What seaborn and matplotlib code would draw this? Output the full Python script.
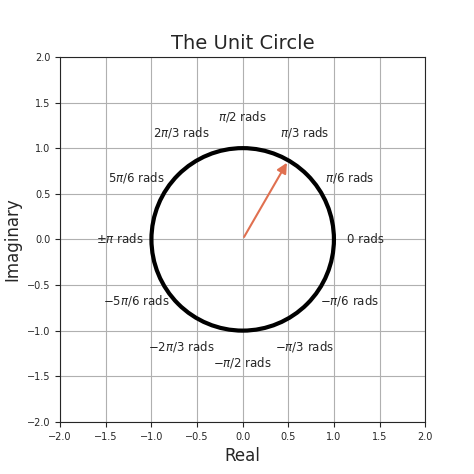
import numpy as np
import seaborn as sns
import matplotlib.pyplot as plt
from matplotlib.patches import Circle

# angle labels placed around the circle
angles = [0, np.pi/6, np.pi/3, np.pi/2, 2*np.pi/3, 5*np.pi/6, np.pi,
          -5*np.pi/6, -2*np.pi/3, -np.pi/2, -np.pi/3, -np.pi/6]
labels = ['0 rads', r'$\pi$/6 rads', r'$\pi$/3 rads', r'$\pi$/2 rads',
          r'2$\pi$/3 rads', r'5$\pi$/6 rads', r'$\pm\pi$ rads',
          r'−5$\pi$/6 rads', r'−2$\pi$/3 rads', r'−$\pi$/2 rads',
          r'−$\pi$/3 rads', r'−$\pi$/6 rads']
label_radius = 1.35
arrow_angle = np.pi/3
ticks = [-2.0, -1.5, -1.0, -0.5, 0.0, 0.5, 1.0, 1.5, 2.0]

sns.set_style('ticks')
fig, ax = plt.subplots(figsize=(4.74, 4.74), dpi=100)
fig.subplots_adjust(left=0.127, right=0.897, bottom=0.11, top=0.88)

ax.add_patch(Circle((0, 0), 1, fill=False, color='black', linewidth=3))
ax.annotate('', xy=(np.cos(arrow_angle), np.sin(arrow_angle)), xytext=(0, 0),
            arrowprops=dict(arrowstyle='-|>', color='#e07050', lw=1.5, mutation_scale=15))
for a, lab in zip(angles, labels):
    ax.text(label_radius*np.cos(a), label_radius*np.sin(a), lab,
            ha='center', va='center', fontsize=8.5)

ax.set_xlim(-2, 2)
ax.set_ylim(-2, 2)
ax.set_xticks(ticks)
ax.set_yticks(ticks)
ax.tick_params(labelsize=7)
ax.grid(True, color='#b0b0b0', linewidth=0.8)
ax.set_aspect('equal')
ax.set_title('The Unit Circle', fontsize=14)
ax.set_xlabel('Real', fontsize=12)
ax.set_ylabel('Imaginary', fontsize=12)
fig.savefig('out.png')
